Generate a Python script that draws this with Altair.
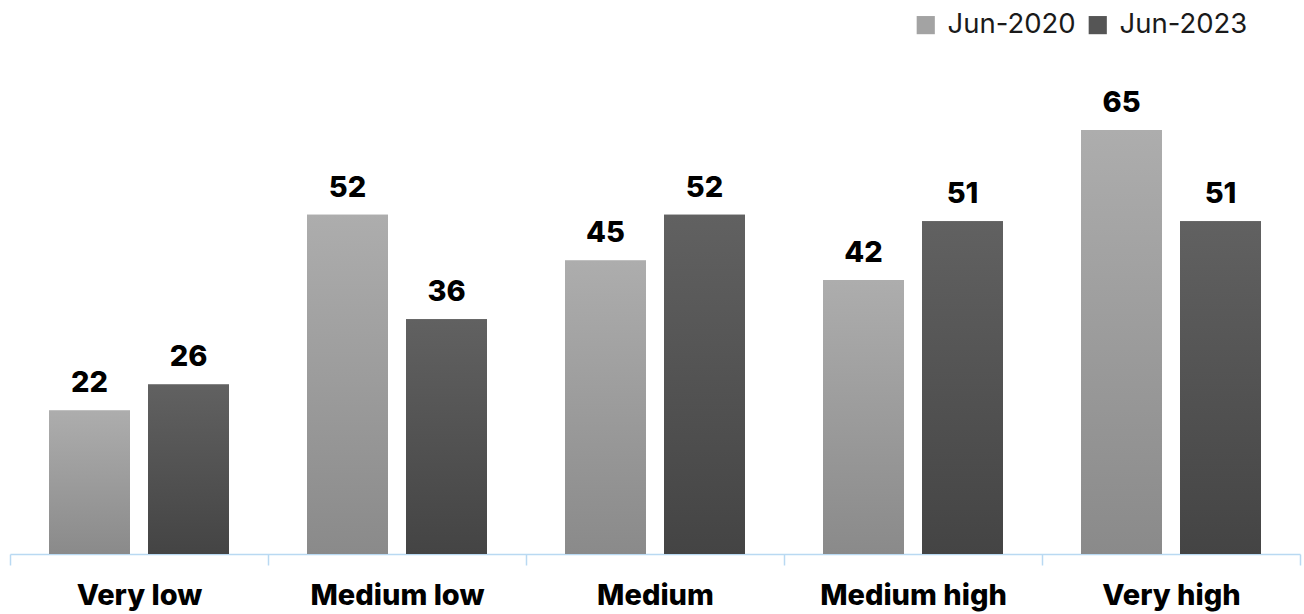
import altair as alt
import pandas as pd

categories = ["Very low", "Medium low", "Medium", "Medium high", "Very high"]
series = ["Jun-2020", "Jun-2023"]
values_2020 = [22, 52, 45, 42, 65]
values_2023 = [26, 36, 52, 51, 51]

rows = []
for c, a, b in zip(categories, values_2020, values_2023):
    rows.append({"cat": c, "series": series[0], "value": a})
    rows.append({"cat": c, "series": series[1], "value": b})
df = pd.DataFrame(rows)

FONT = "Inter"

x = alt.X("cat:N", sort=categories, title=None,
          scale=alt.Scale(paddingInner=0, paddingOuter=0),
          axis=alt.Axis(labelAngle=0, labelFontSize=29, labelFontWeight=800,
                        labelColor="#000000", labelFont=FONT, labelLimit=0,
                        domainColor="#b9d9f2", domainWidth=1.5,
                        tickColor="#b9d9f2", tickWidth=1.5, tickSize=11,
                        tickBand="extent", labelPadding=16, labelBaseline="top"))
xo = alt.XOffset("series:N", sort=series,
                 scale=alt.Scale(domain=series, paddingInner=0.182, paddingOuter=0.394))
y = alt.Y("value:Q", title=None,
          scale=alt.Scale(domain=[0, 74.2], nice=False),
          axis=None)

base = alt.Chart(df)

legend_layer = base.mark_bar().encode(
    x=x, xOffset=xo, y=y,
    color=alt.Color("series:N", sort=series,
                    scale=alt.Scale(domain=series, range=["#a3a3a3", "#555555"]),
                    legend=alt.Legend(title=None, orient="none", direction="horizontal",
                                      legendX=902, legendY=-59,
                                      symbolType="square", symbolSize=330,
                                      symbolStrokeWidth=0,
                                      labelFontSize=27.5, labelFont=FONT,
                                      labelColor="#1a1a1a", labelFontWeight=400,
                                      labelOffset=8, columnPadding=8)),
)

def grad(top, bottom):
    return alt.Gradient(gradient="linear", x1=0, x2=0, y1=0, y2=1,
                        stops=[alt.GradientStop(color=top, offset=0),
                               alt.GradientStop(color=bottom, offset=1)])

light = base.transform_filter(alt.datum.series == series[0]).mark_bar(
    color=grad("#adadad", "#8a8a8a")).encode(x=x, xOffset=xo, y=y)
dark = base.transform_filter(alt.datum.series == series[1]).mark_bar(
    color=grad("#616161", "#444444")).encode(x=x, xOffset=xo, y=y)

labels = base.mark_text(baseline="alphabetic", dy=-18, fontSize=29,
                        fontWeight=800, font=FONT, color="#000000").encode(
    x=x, xOffset=xo, y=y, text=alt.Text("value:Q"))

chart = alt.layer(legend_layer, light, dark, labels).properties(
    width=1290, height=484,
    background="white",
    autosize=alt.AutoSizeParams(type="none"),
    padding={"left": 10, "right": 4, "top": 70, "bottom": 60},
).configure_view(strokeWidth=0, stroke="transparent")

chart.save("out.html", embed_options={"renderer": "svg", "actions": False})
